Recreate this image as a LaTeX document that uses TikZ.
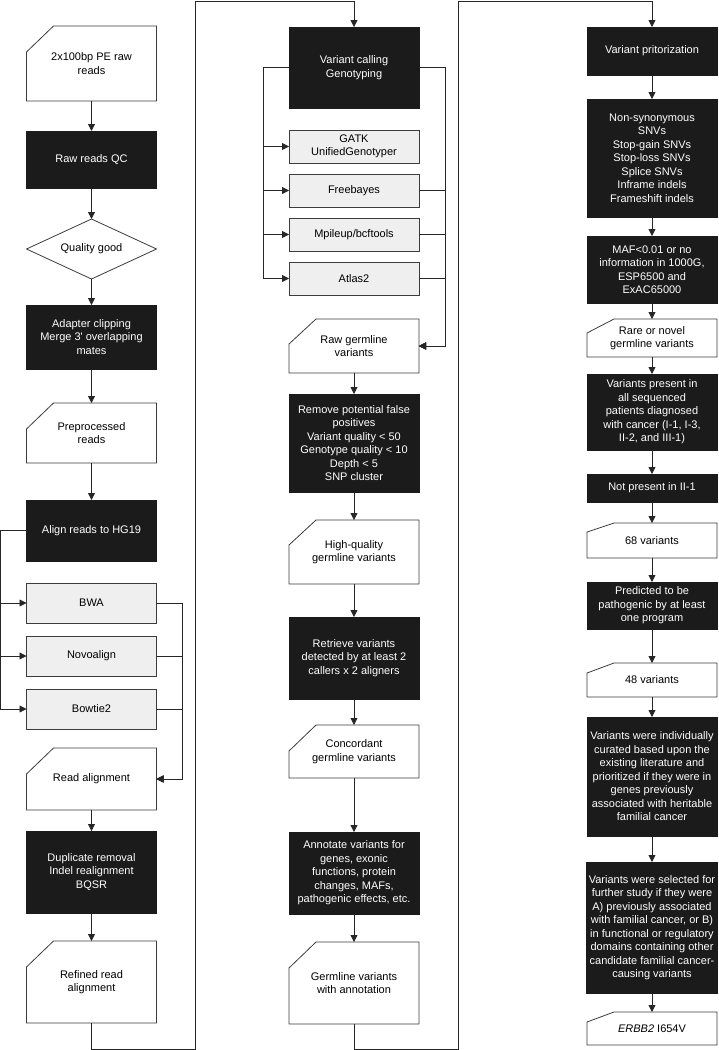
\documentclass[tikz,border=0pt]{standalone}
\usepackage{fontspec}
\setmainfont{Liberation Sans}
\usetikzlibrary{arrows.meta, positioning, shapes.geometric}

\definecolor{boxdark}{HTML}{1B1B1B}
\definecolor{toolgray}{HTML}{EFEFEF}
\definecolor{edgegray}{HTML}{3C3C3C}

\begin{document}
\begin{tikzpicture}[
    x=1pt, y=1pt,
    >={Triangle[length=7pt, width=7pt]},
    line width=0.8pt,
    base/.style={font=\fontsize{11}{13.5}\selectfont, align=center, inner sep=2pt, outer sep=0pt, minimum width=130pt},
    darkbox/.style={base, rectangle, fill=boxdark, draw=boxdark, text=white, minimum height=#1},
    toolbox/.style={base, rectangle, fill=toolgray, draw=edgegray, minimum height=#1,
        append after command={\pgfextra{
            \draw[edgegray] ([xshift=12.5pt]\tikzlastnode.north west) -- ([xshift=12.5pt]\tikzlastnode.south west);
            \draw[edgegray] ([xshift=-12.5pt]\tikzlastnode.north east) -- ([xshift=-12.5pt]\tikzlastnode.south east);}}},
    iobox/.style 2 args={base, rectangle, minimum height=#1,
        append after command={\pgfextra{
            \draw[edgegray] ([yshift=-#2]\tikzlastnode.north west) -- ([xshift=27pt]\tikzlastnode.north west)
                -- (\tikzlastnode.north east) -- (\tikzlastnode.south east)
                -- (\tikzlastnode.south west) -- cycle;}}},
    decision/.style={base, diamond, draw=edgegray, minimum width=130pt, minimum height=60pt,
        shape aspect=2.15, inner sep=0pt},
    flow/.style={->, draw=black!85},
]

    \useasboundingbox (0,0) rectangle (718,-1050);

    % preprocessing and alignment
    \node[iobox={75pt}{26pt}, anchor=north] (rawreads) at (91.5,-26) {2x100bp PE raw\\reads};
    \node[darkbox=57pt, below=30pt of rawreads]   (readsqc)  {Raw reads QC};
    \node[decision,     below=31pt of readsqc]    (quality)  {Quality good};
    \node[darkbox=64pt, below=26pt of quality]    (clipping) {Adapter clipping\\Merge 3\textquotesingle{} overlapping\\mates};
    \node[iobox={60pt}{26pt}, below=34pt of clipping] (preproc) {Preprocessed\\reads};
    \node[darkbox=61pt, below=37pt of preproc]    (align)    {Align reads to HG19};
    \node[toolbox=40pt, below=22pt of align]      (bwa)      {BWA};
    \node[toolbox=40pt, below=13pt of bwa]        (novo)     {Novoalign};
    \node[toolbox=40pt, below=13pt of novo]       (bowtie)   {Bowtie2};
    \node[iobox={62pt}{26pt}, below=19pt of bowtie] (readaln) {Read alignment};
    \node[darkbox=82pt, below=21pt of readaln]    (dedup)    {Duplicate removal\\Indel realignment\\BQSR};
    \node[iobox={82pt}{26pt}, below=28pt of dedup] (refined) {Refined read\\alignment};

    % variant calling
    \node[darkbox=81pt, anchor=north] (calling) at (354,-27) {Variant calling\\Genotyping};
    \node[toolbox=33pt, below=22pt of calling]    (gatk)     {GATK\\UnifiedGenotyper};
    \node[toolbox=33pt, below=11pt of gatk]       (freebayes) {Freebayes};
    \node[toolbox=33pt, below=11pt of freebayes]  (mpileup)  {Mpileup/bcftools};
    \node[toolbox=33pt, below=11pt of mpileup]    (atlas)    {Atlas2};
    \node[iobox={54pt}{25pt}, below=24pt of atlas] (rawvar)  {Raw germline\\variants};
    \node[darkbox=98pt, below=21pt of rawvar]     (filter)   {Remove potential false\\positives\\Variant quality < 50\\Genotype quality < 10\\Depth < 5\\SNP cluster};
    \node[iobox={64pt}{25pt}, below=28pt of filter] (hqvar)  {High-quality\\germline variants};
    \node[darkbox=82pt, below=33pt of hqvar]      (retrieve) {Retrieve variants\\detected by at least 2\\callers x 2 aligners};
    \node[iobox={53pt}{26pt}, below=26pt of retrieve] (concord) {Concordant\\germline variants};
    \node[darkbox=82pt, below=54pt of concord]    (annotate) {Annotate variants for\\genes, exonic\\functions, protein\\changes, MAFs,\\pathogenic effects, etc.};
    \node[iobox={82pt}{26pt}, below=28pt of annotate] (annotated) {Germline variants\\with annotation};

    % prioritization
    \node[darkbox=48pt, anchor=north] (prior) at (652,-27) {Variant pritorization};
    \node[darkbox=118pt, below=24pt of prior]     (vclass)   {Non-synonymous\\SNVs\\Stop-gain SNVs\\Stop-loss SNVs\\Splice SNVs\\Inframe indels\\Frameshift indels};
    \node[darkbox=67pt, below=19pt of vclass]     (maf)      {MAF<0.01 or no\\information in 1000G,\\ESP6500 and\\ExAC65000};
    \node[iobox={38pt}{14pt}, below=16pt of maf]  (rare)     {Rare or novel\\germline variants};
    \node[darkbox=76pt, below=17pt of rare]       (shared)   {Variants present in\\all sequenced\\patients diagnosed\\with cancer (I-1, I-3,\\II-2, and III-1)};
    \node[darkbox=28pt, below=24pt of shared]     (absent)   {Not present in II-1};
    \node[iobox={35pt}{9pt}, below=21pt of absent] (var68)   {68 variants};
    \node[darkbox=47pt, below=24pt of var68]      (pathogen) {Predicted to be\\pathogenic by at least\\one program};
    \node[iobox={34pt}{10pt}, below=34pt of pathogen] (var48) {48 variants};
    \node[darkbox=119pt, below=20pt of var48]     (curated)  {Variants were individually\\curated based upon the\\existing literature and\\prioritized if they were in\\genes previously\\associated with heritable\\familial cancer};
    \node[darkbox=131pt, below=26pt of curated]   (selected) {Variants were selected for\\further study if they were\\A) previously associated\\with familial cancer, or B)\\in functional or regulatory\\domains containing other\\candidate familial cancer-\\causing variants};
    \node[iobox={33pt}{10pt}, below=19pt of selected] (erbb) {\textit{ERBB2} I654V};

    % turn points between the columns
    \coordinate (turn1b) at (195,-1049);
    \coordinate (turn1t) at (195,-1.5);
    \coordinate (turn2b) at (458,-1049);
    \coordinate (turn2t) at (458,-1.5);

    \foreach \a/\b in {rawreads/readsqc, readsqc/quality, quality/clipping, clipping/preproc,
        preproc/align, readaln/dedup, dedup/refined,
        rawvar/filter, filter/hqvar, hqvar/retrieve, retrieve/concord, concord/annotate, annotate/annotated,
        prior/vclass, vclass/maf, maf/rare, rare/shared, shared/absent, absent/var68, var68/pathogen,
        pathogen/var48, var48/curated, curated/selected, selected/erbb}
        \draw[flow] (\a) -- (\b);

    % aligners
    \foreach \t in {bwa, novo, bowtie} {
        \draw[flow] (align.west) -- ++(-26,0) |- (\t.west);
        \draw[flow] (\t.east) -- ++(26,0) |- (readaln.east);
    }

    % callers
    \foreach \t in {gatk, freebayes, mpileup, atlas}
        \draw[flow] (calling.west) -- ++(-26,0) |- (\t.west);
    \draw[flow] (calling.east) -- ++(26,0) |- (rawvar.east);
    \foreach \t in {freebayes, mpileup, atlas}
        \draw[flow] (\t.east) -- ++(26,0) |- (rawvar.east);

    % column links
    \draw[flow] (refined.south) |- (turn1b) -- (turn1t) -| (calling.north);
    \draw[flow] (annotated.south) |- (turn2b) -- (turn2t) -| (prior.north);

\end{tikzpicture}
\end{document}
